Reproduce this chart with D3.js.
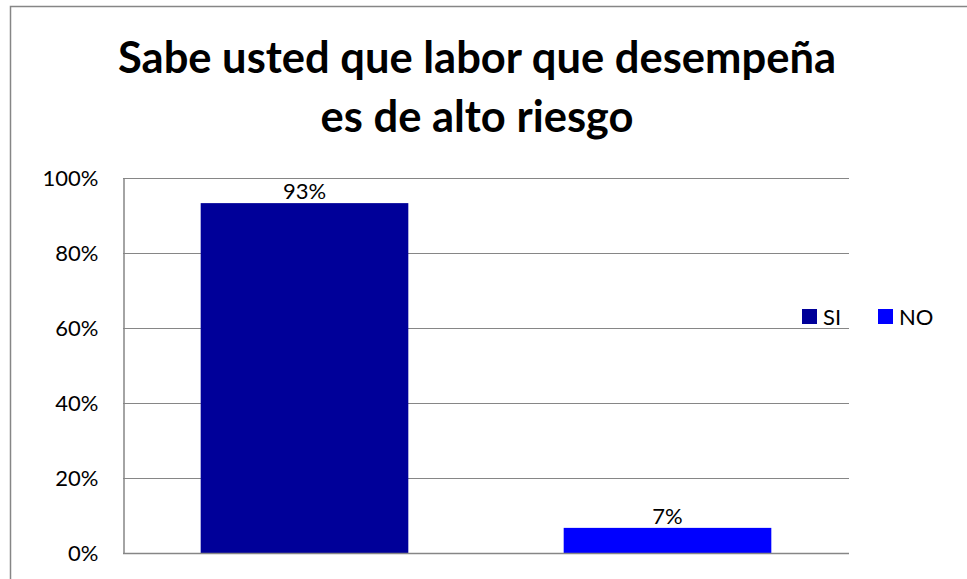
<!DOCTYPE html>
<html>
<head>
<meta charset="utf-8">
<script src="https://cdn.jsdelivr.net/npm/d3@7"></script>
<style>
  html, body { margin: 0; padding: 0; background: #fff; }
  svg { display: block; }
</style>
</head>
<body>
<div id="chart"></div>
<script>
// chart data
const categories = ["SI", "NO"];
const values = [0.933, 0.067];
const labels = ["93%", "7%"];
const yTicks = [0, 0.2, 0.4, 0.6, 0.8, 1.0];
const titleLines = ["Sabe usted que labor que desempeña", "es de alto riesgo"];
const colors = ["#000099", "#0000FF"];

const W = 967, H = 579;
const plot = { left: 123, right: 849, top: 178, bottom: 553 };
const FONT = "Lato, 'Open Sans', sans-serif";

const svg = d3.select("#chart").append("svg")
    .attr("width", W).attr("height", H)
    .attr("viewBox", `0 0 ${W} ${H}`);

// outer chart border (runs off the right/bottom edges like the original)
svg.append("rect")
    .attr("x", 10.5).attr("y", 6.5)
    .attr("width", 1000).attr("height", 700)
    .attr("fill", "#fff").attr("stroke", "#868686").attr("stroke-width", 1.5);

// title
svg.append("g").selectAll("text")
    .data(titleLines)
    .join("text")
    .attr("x", 477).attr("y", (d, i) => 73 + i * 59)
    .attr("text-anchor", "middle")
    .style("font-family", FONT)
    .style("font-weight", "bold")
    .style("font-size", "43.5px")
    .attr("fill", "#000")
    .text(d => d);

const x = d3.scaleBand()
    .domain(categories)
    .range([plot.left, plot.right])
    .paddingInner(0.428).paddingOuter(0.214);

const y = d3.scaleLinear().domain([0, 1]).range([plot.bottom, plot.top]);

// gridlines
svg.append("g").selectAll("line")
    .data(yTicks)
    .join("line")
    .attr("x1", plot.left).attr("x2", plot.right)
    .attr("y1", d => Math.round(y(d)) + 0.5).attr("y2", d => Math.round(y(d)) + 0.5)
    .attr("stroke", "#868686").attr("stroke-width", 1.2);

// y axis
const yAxis = svg.append("g")
    .attr("transform", `translate(${plot.left + 0.5},0)`)
    .call(d3.axisLeft(y).tickValues(yTicks).tickFormat(d3.format(".0%")).tickSize(0).tickPadding(25));
yAxis.select(".domain").attr("stroke", "#868686").attr("stroke-width", 1.5);
yAxis.selectAll("text")
    .style("font-family", FONT)
    .style("font-size", "22px")
    .attr("fill", "#000");

// bars
svg.append("g").selectAll("rect")
    .data(values)
    .join("rect")
    .attr("x", (d, i) => x(categories[i]))
    .attr("y", d => y(d))
    .attr("width", x.bandwidth())
    .attr("height", d => y(0) - y(d))
    .attr("fill", (d, i) => colors[i]);

// bottom axis line
svg.append("line")
    .attr("x1", plot.left).attr("x2", plot.right)
    .attr("y1", plot.bottom + 0.5).attr("y2", plot.bottom + 0.5)
    .attr("stroke", "#868686").attr("stroke-width", 1.5);

// data labels
svg.append("g").selectAll("text")
    .data(values)
    .join("text")
    .attr("x", (d, i) => x(categories[i]) + x.bandwidth() / 2)
    .attr("y", d => y(d) - 4)
    .attr("text-anchor", "middle")
    .style("font-family", FONT)
    .style("font-size", "22px")
    .attr("fill", "#000")
    .text((d, i) => labels[i]);

// legend
const legendX = [802, 878];
const legend = svg.append("g").selectAll("g")
    .data(categories)
    .join("g")
    .attr("transform", (d, i) => `translate(${legendX[i]},309)`);
legend.append("rect")
    .attr("width", 15).attr("height", 15)
    .attr("fill", (d, i) => colors[i]);
legend.append("text")
    .attr("x", 21).attr("y", 15.5)
    .style("font-family", FONT)
    .style("font-size", "22px")
    .attr("fill", "#000")
    .text(d => d);
</script>
</body>
</html>
